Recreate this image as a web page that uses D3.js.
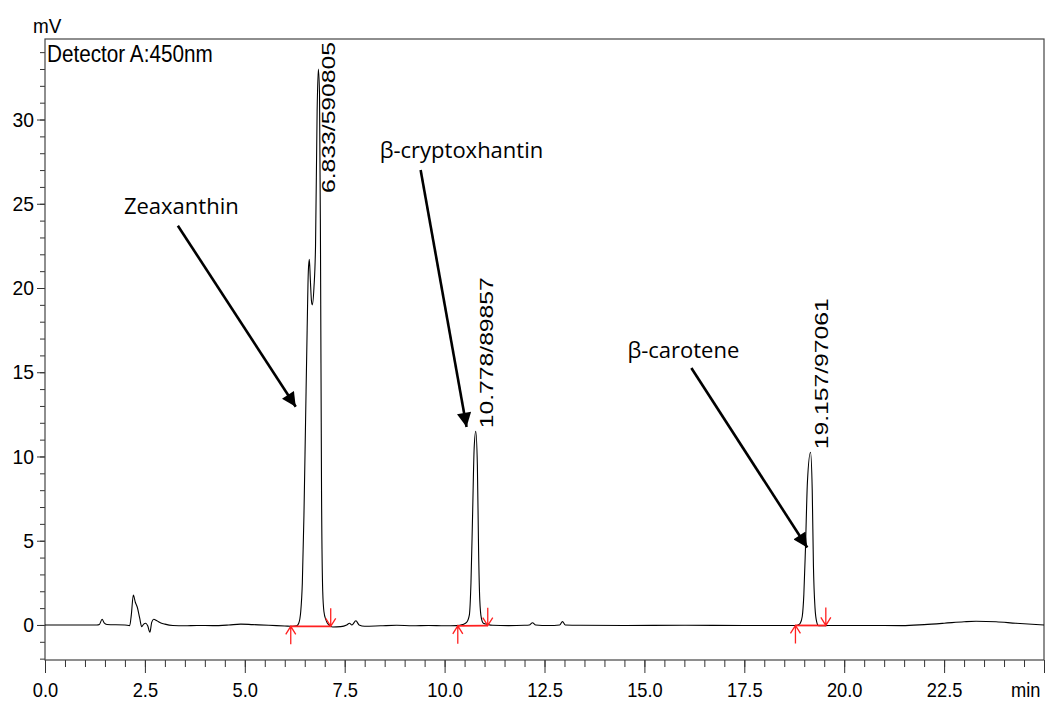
<!DOCTYPE html>
<html>
<head>
<meta charset="utf-8">
<script src="https://cdn.jsdelivr.net/npm/d3@7"></script>
<style>
  body { margin: 0; background: #fff; }
  svg { display: block; }
  .tick text { font-family: "Liberation Sans", Arial, sans-serif; font-size: 21px; fill: #000; }
</style>
</head>
<body>
<script>
// retention time (min) and detector signal (mV)
const times = [0.0, 1.30, 1.36, 1.43, 1.48, 1.55, 2.00, 2.12, 2.16, 2.21, 2.26, 2.31, 2.37, 2.42, 2.47, 2.52, 2.57, 2.625, 2.67, 2.72, 2.80, 2.90, 3.00, 3.20, 3.50, 3.80, 4.20, 4.60, 4.90, 5.20, 5.60, 6.00, 6.20, 6.30,
  6.35, 6.40, 6.44, 6.48, 6.52, 6.56, 6.59, 6.615, 6.64, 6.67, 6.69, 6.73, 6.77, 6.81, 6.84, 6.87, 6.895, 6.92, 6.95, 6.98, 7.03, 7.10, 7.20, 7.40, 7.55, 7.62, 7.68, 7.78, 7.86, 8.00, 8.40, 8.80, 9.20, 9.60, 10.00, 10.30,
  10.45, 10.55, 10.62, 10.66, 10.70, 10.74, 10.78, 10.82, 10.85, 10.88, 10.92, 10.97, 11.05, 11.20, 11.60, 12.00, 12.12, 12.20, 12.28, 12.60, 12.88, 12.95, 13.02, 13.40, 14.50, 16.00, 17.50, 18.50, 18.80,
  18.85, 18.90, 18.95, 18.99, 19.03, 19.08, 19.157, 19.20, 19.23, 19.27, 19.31, 19.36, 19.45, 19.60, 20.50, 21.45, 22.00, 22.50, 23.00, 23.30, 23.80, 24.30, 24.70, 25.00];
const signal = [0.0, 0.0, 0.03, 0.34, 0.12, 0.03, 0.0, -0.04, 0.6, 1.78, 1.35, 1.05, 0.4, -0.1, 0.05, 0.1, -0.05, -0.43, 0.15, 0.34, 0.25, 0.12, 0.05, -0.03, -0.05, -0.03, -0.04, 0.0, 0.05, 0.02, -0.02, -0.06, -0.08, -0.05,
  0.1, 0.8, 2.5, 6.5, 12, 17.5, 21, 21.7, 20.5, 19.2, 19.0, 20.0, 22.5, 30.5, 33.0, 31.5, 22, 8, 2.0, 0.8, 0.3, 0.0, -0.12, -0.1, 0.0, 0.1, 0.0, 0.25, 0.0, -0.08, -0.05, -0.02, -0.05, -0.03, -0.05, -0.04,
  0.02, 0.15, 0.6, 2.5, 6.5, 10.5, 11.5, 9.5, 4.5, 1.5, 0.4, 0.1, 0.05, -0.02, -0.04, -0.02, 0.0, 0.13, 0.0, -0.03, 0.0, 0.2, 0.0, -0.02, -0.03, -0.02, -0.03, -0.03, -0.03,
  0.0, 0.1, 0.5, 1.8, 4.5, 8.5, 10.25, 8.0, 3.5, 1.0, 0.2, -0.05, -0.05, -0.03, -0.03, -0.04, 0.02, 0.1, 0.19, 0.22, 0.19, 0.1, 0.04, 0.0];

// integrated peaks
const peakTimes = [6.833, 10.778, 19.157];
const peakHeights = [33.0, 11.5, 10.25];
const peakLabels = ["6.833/590805", "10.778/89857", "19.157/97061"];
const peakStart = [6.15, 10.33, 18.78];
const peakEnd = [7.15, 11.08, 19.54];
const baseStart = [-0.08, -0.05, -0.03];
const baseEnd = [-0.08, -0.04, -0.03];

// compound annotations: text anchor, arrow tail, arrow head (min, mV)
const compounds = ["Zeaxanthin", "β-cryptoxhantin", "β-carotene"];
const textAt = [[1.975, 24.4], [8.375, 27.7], [14.575, 15.85]];
const arrowFrom = [[3.325, 23.7], [9.4, 27.0], [16.175, 15.25]];
const arrowTo = [[6.275, 12.95], [10.55, 11.75], [19.075, 4.6]];

const xMajor = [0, 2.5, 5, 7.5, 10, 12.5, 15, 17.5, 20, 22.5, 25];
const yMajor = [0, 5, 10, 15, 20, 25, 30];

const width = 1046, height = 701;
const margin = {top: 39, right: 2, bottom: 41, left: 45};

const svg = d3.select("body").append("svg")
  .attr("width", width)
  .attr("height", height);

const x = d3.scaleLinear().domain([0, 25]).range([margin.left, width - margin.right]);
const y = d3.scaleLinear().domain([-2.08, 34.78]).range([height - margin.bottom, margin.top]);

svg.append("defs").append("marker")
  .attr("id", "head")
  .attr("viewBox", "0 0 10 10")
  .attr("refX", 10).attr("refY", 5)
  .attr("markerWidth", 6).attr("markerHeight", 5.5)
  .attr("markerUnits", "strokeWidth")
  .attr("orient", "auto")
  .append("path").attr("d", "M0,0L10,5L0,10Z").attr("fill", "#000");

// squeeze a text horizontally, like the narrow font of the instrument printout
function squeeze(sel, k) {
  sel.each(function() {
    const w = this.getComputedTextLength();
    d3.select(this).attr("textLength", w * k).attr("lengthAdjust", "spacingAndGlyphs");
  });
}

// minor ticks
svg.append("g")
  .attr("transform", `translate(0,${y.range()[0]})`)
  .call(d3.axisBottom(x).tickValues(d3.range(0, 25.01, 0.5)).tickSize(7).tickFormat(""))
  .call(g => g.select(".domain").remove())
  .call(g => g.selectAll("line").attr("stroke", "#333"));
svg.append("g")
  .attr("transform", `translate(${x.range()[0]},0)`)
  .call(d3.axisLeft(y).tickValues(d3.range(-2, 35, 1)).tickSize(5).tickFormat(""))
  .call(g => g.select(".domain").remove())
  .call(g => g.selectAll("line").attr("stroke", "#333"));

// major ticks
svg.append("g")
  .attr("transform", `translate(0,${y.range()[0]})`)
  .call(d3.axisBottom(x).tickValues(xMajor).tickSize(13).tickPadding(9)
    .tickFormat(d => d === 25 ? "min" : d3.format(".1f")(d)))
  .call(g => g.select(".domain").remove())
  .call(g => g.selectAll("line").attr("stroke", "#333"))
  .call(g => g.selectAll("text").call(squeeze, 0.87))
  .call(g => g.selectAll("text").filter(d => d === 25).attr("text-anchor", "end").attr("x", -4));
svg.append("g")
  .attr("transform", `translate(${x.range()[0]},0)`)
  .call(d3.axisLeft(y).tickValues(yMajor).tickSize(8).tickPadding(3))
  .call(g => g.select(".domain").remove())
  .call(g => g.selectAll("line").attr("stroke", "#333"))
  .call(g => g.selectAll("text").call(squeeze, 0.92));

// frame
svg.append("rect")
  .attr("x", x.range()[0]).attr("y", y.range()[1])
  .attr("width", x.range()[1] - x.range()[0])
  .attr("height", y.range()[0] - y.range()[1])
  .attr("fill", "none").attr("stroke", "#444").attr("stroke-width", 1.2);

svg.append("text")
  .attr("x", 33).attr("y", 33)
  .style("font-family", "'Liberation Sans', Arial, sans-serif")
  .style("font-size", "21px")
  .text("mV")
  .call(squeeze, 0.9);

svg.append("text")
  .attr("x", 47).attr("y", 62)
  .style("font-family", "'Liberation Sans', Arial, sans-serif")
  .style("font-size", "23px")
  .text("Detector A:450nm")
  .call(squeeze, 0.9);

// trace
const pts = times.map((t, i) => [t, signal[i]]);
svg.append("path")
  .datum(pts)
  .attr("fill", "none")
  .attr("stroke", "#000")
  .attr("stroke-width", 1.1)
  .attr("d", d3.line().x(d => x(d[0])).y(d => y(d[1])).curve(d3.curveMonotoneX));

// integration baselines + start/stop arrows
const red = "#ff2020";
const marks = svg.append("g").attr("stroke", red).attr("fill", "none").attr("stroke-width", 1.3);
peakStart.forEach((s, i) => {
  const x0 = x(s), y0 = y(baseStart[i]);
  const x1 = x(peakEnd[i]), y1 = y(baseEnd[i]);
  marks.append("line").attr("x1", x0).attr("y1", y0).attr("x2", x1).attr("y2", y1).attr("stroke-width", 1.8);
  marks.append("path").attr("d", `M${x0},${y0 + 18}V${y0}M${x0 - 5},${y0 + 8}L${x0},${y0}L${x0 + 5},${y0 + 8}`);
  marks.append("path").attr("d", `M${x1},${y1 - 18}V${y1}M${x1 - 5},${y1 - 8}L${x1},${y1}L${x1 + 5},${y1 - 8}`);
});

// peak labels, kept inside the frame
peakTimes.forEach((t, i) => {
  const len = 151;
  const yb = Math.max(y(peakHeights[i]) - 3, y.range()[1] + len + 3);
  svg.append("text")
    .attr("transform", `translate(${x(t) + 17},${yb}) rotate(-90)`)
    .attr("textLength", len)
    .attr("lengthAdjust", "spacingAndGlyphs")
    .style("font-family", "'Liberation Sans', Arial, sans-serif")
    .style("font-size", "19px")
    .text(peakLabels[i]);
});

// compound names and arrows
compounds.forEach((c, i) => {
  svg.append("text")
    .attr("x", x(textAt[i][0])).attr("y", y(textAt[i][1]))
    .style("font-family", "'Open Sans', Lato, sans-serif")
    .style("font-size", "22px")
    .text(c);
  svg.append("line")
    .attr("x1", x(arrowFrom[i][0])).attr("y1", y(arrowFrom[i][1]))
    .attr("x2", x(arrowTo[i][0])).attr("y2", y(arrowTo[i][1]))
    .attr("stroke", "#000").attr("stroke-width", 2.6)
    .attr("marker-end", "url(#head)");
});
</script>
</body>
</html>
